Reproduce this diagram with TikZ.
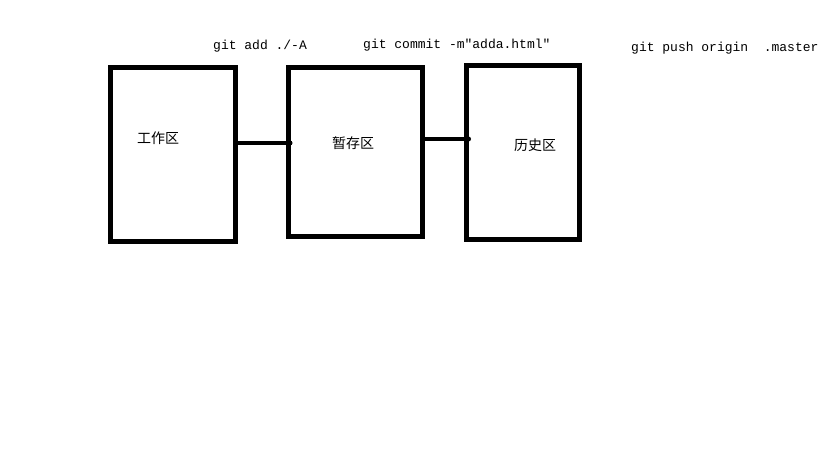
\documentclass[tikz,border=0pt]{standalone}
\usepackage{fontspec}
\setmonofont{Liberation Mono}
\newfontfamily\cjk{Noto Sans CJK SC}
\begin{document}
\begin{tikzpicture}[x=1pt,y=-1pt,
  box/.style={draw=black,line width=4.5pt,inner sep=0pt,outer sep=0pt,anchor=north west},
  conn/.style={draw=black,line width=4pt},
  cmd/.style={font=\fontsize{13}{15}\selectfont\ttfamily,inner sep=0pt,anchor=west},
  zh/.style={font=\fontsize{14}{16}\selectfont\cjk,inner sep=0pt,anchor=west},
  tip/.style={fill=black}]
\useasboundingbox (0,0) rectangle (819,460);
\fill[white] (0,0) rectangle (819,460);
\node[box,minimum width=125pt,minimum height=174pt] (b1) at (110.5,67.5) {};
\node[box,minimum width=134pt,minimum height=169pt] (b2) at (288.5,67.5) {};
\node[box,minimum width=113pt,minimum height=174pt] (b3) at (466.5,65.5) {};
\coordinate (c1s) at (b1.east |- 0,143);
\coordinate (c1e) at (b2.west |- 0,143);
\coordinate (c2s) at (b2.east |- 0,139);
\coordinate (c2e) at (b3.west |- 0,139);
\draw[conn] (c1s) -- (c1e);
\draw[conn] (c2s) -- (c2e);
\fill[tip] (c1e) ++(1.5,0) circle (2.5);
\fill[tip] (c2e) ++(2,0) circle (2.5);
\node[cmd] (t1) at (213,46) {git add ./-A};
\node[cmd] (t2) at (363,45) {git commit -m"adda.html"};
\node[cmd] (t3) at (631,48) {git push origin\ \ .master};
\node[zh] (z1) at (137,138) {工作区};
\node[zh] (z2) at (332,143) {暂存区};
\node[zh] (z3) at (514,145) {历史区};
\end{tikzpicture}
\end{document}
